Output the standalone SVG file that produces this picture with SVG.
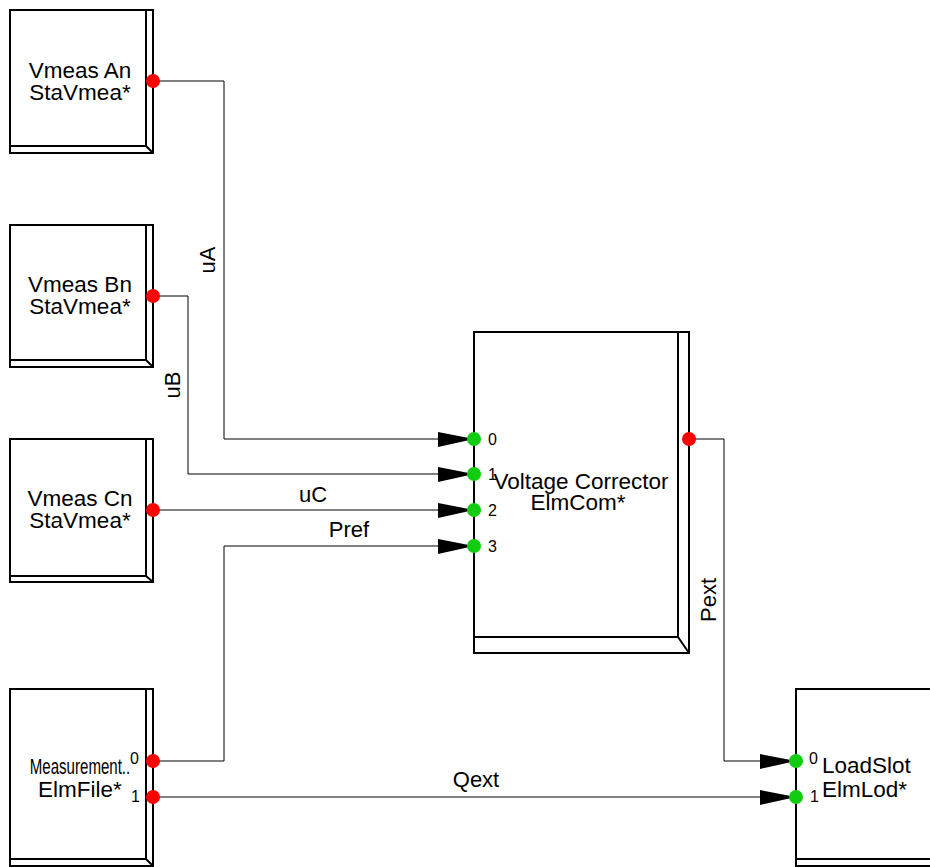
<svg xmlns="http://www.w3.org/2000/svg" width="930" height="867" viewBox="0 0 930 867">
<style>
.blk{fill:#fff;stroke:#000;stroke-width:2}
.bev{fill:none;stroke:#000;stroke-width:2}
.w{fill:none;stroke:#000;stroke-width:1}
.t{font-family:"Liberation Sans",Arial,sans-serif;font-size:22.5px;fill:#000}
.l{font-family:"Liberation Sans",Arial,sans-serif;font-size:22px;fill:#000}
.p{font-family:"Liberation Sans",Arial,sans-serif;font-size:16px;fill:#000}
.out{fill:#f00}
.in{fill:#1c1}
.ah{fill:#000}
</style>
<rect width="930" height="867" fill="#fff"/>
<g id="connectors">
<path class="w" d="M153,81 H224 V439 H440"/>
<path class="w" d="M153,296 H188 V474 H440"/>
<path class="w" d="M153,510 H440"/>
<path class="w" d="M153,761 H224 V546 H440"/>
<path class="w" d="M689,439 H724 V761 H762"/>
<path class="w" d="M153,797 H762"/>
<polygon class="ah" points="438,432 474,439 438,447"/>
<polygon class="ah" points="438,467 474,474 438,482"/>
<polygon class="ah" points="438,503 474,510 438,518"/>
<polygon class="ah" points="438,539 474,546 438,554"/>
<polygon class="ah" points="760,754 796,761 760,769"/>
<polygon class="ah" points="760,790 796,797 760,805"/>
<text class="l" text-anchor="middle" transform="translate(215,260) rotate(-90)">uA</text>
<text class="l" text-anchor="middle" transform="translate(180,385) rotate(-90)">uB</text>
<text class="l" x="313" y="502" text-anchor="middle">uC</text>
<text class="l" x="349" y="537" text-anchor="middle">Pref</text>
<text class="l" text-anchor="middle" transform="translate(716,600) rotate(-90)">Pext</text>
<text class="l" x="476" y="787" text-anchor="middle">Qext</text>
</g>
<g id="vmeasA">
<rect class="blk" x="10" y="10" width="143" height="143"/>
<path class="bev" d="M146,10 V146 H10 M146,146 L153,153"/>
<text class="t" x="80" y="78" text-anchor="middle">Vmeas An</text>
<text class="t" x="80" y="100" text-anchor="middle">StaVmea*</text>
<circle class="out" cx="153" cy="81" r="7"/>
</g>
<g id="vmeasB">
<rect class="blk" x="10" y="225" width="143" height="142"/>
<path class="bev" d="M146,225 V360 H10 M146,360 L153,367"/>
<text class="t" x="80" y="292" text-anchor="middle">Vmeas Bn</text>
<text class="t" x="80" y="314" text-anchor="middle">StaVmea*</text>
<circle class="out" cx="153" cy="296" r="7"/>
</g>
<g id="vmeasC">
<rect class="blk" x="10" y="439" width="143" height="143"/>
<path class="bev" d="M146,439 V576 H10 M146,576 L153,582"/>
<text class="t" x="80" y="506" text-anchor="middle">Vmeas Cn</text>
<text class="t" x="80" y="528" text-anchor="middle">StaVmea*</text>
<circle class="out" cx="153" cy="510" r="7"/>
</g>
<g id="measurement">
<rect class="blk" x="10" y="689" width="143" height="177"/>
<path class="bev" d="M146,689 V859 H10 M146,859 L153,866"/>
<text class="t" text-anchor="middle" transform="translate(80,774) scale(0.67,1)">Measurement..</text>
<text class="t" x="80" y="797" text-anchor="middle">ElmFile*</text>
<text class="p" x="130" y="764">0</text>
<text class="p" x="131" y="802">1</text>
<circle class="out" cx="153" cy="761" r="7"/>
<circle class="out" cx="153" cy="797" r="7"/>
</g>
<g id="voltageCorrector">
<rect class="blk" x="474" y="332" width="215" height="321"/>
<path class="bev" d="M678,332 V637 H474 M678,637 L689,653"/>
<text class="p" x="488" y="445">0</text>
<text class="p" x="488" y="480">1</text>
<text class="p" x="488" y="516">2</text>
<text class="p" x="488" y="552">3</text>
<text class="t" x="581" y="489" text-anchor="middle">Voltage Corrector</text>
<text class="t" x="578" y="510" text-anchor="middle">ElmCom*</text>
<circle class="in" cx="474" cy="439" r="7"/>
<circle class="in" cx="474" cy="474" r="7"/>
<circle class="in" cx="474" cy="510" r="7"/>
<circle class="in" cx="474" cy="546" r="7"/>
<circle class="out" cx="689" cy="439" r="7"/>
</g>
<g id="loadSlot">
<rect class="blk" x="796" y="689" width="143" height="177"/>
<path class="bev" d="M932,689 V859 H796 M932,859 L939,866"/>
<text class="p" x="809" y="764">0</text>
<text class="p" x="810" y="802">1</text>
<text class="t" x="822" y="773">LoadSlot</text>
<text class="t" x="822" y="797">ElmLod*</text>
<circle class="in" cx="796" cy="761" r="7"/>
<circle class="in" cx="796" cy="797" r="7"/>
</g>
</svg>
